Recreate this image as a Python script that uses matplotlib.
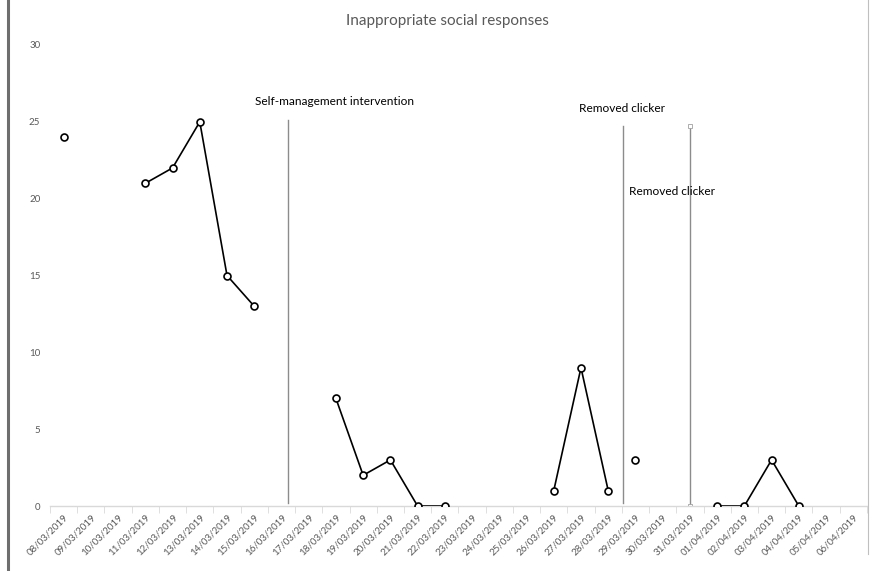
import numpy as np
import matplotlib
matplotlib.use("Agg")
from matplotlib import pyplot as plt
from matplotlib.lines import Line2D

plt.rcParams['font.family'] = ['Lato', 'DejaVu Sans']

# Daily dates shown on the category axis
dates = ['08/03/2019', '09/03/2019', '10/03/2019', '11/03/2019', '12/03/2019',
         '13/03/2019', '14/03/2019', '15/03/2019', '16/03/2019', '17/03/2019',
         '18/03/2019', '19/03/2019', '20/03/2019', '21/03/2019', '22/03/2019',
         '23/03/2019', '24/03/2019', '25/03/2019', '26/03/2019', '27/03/2019',
         '28/03/2019', '29/03/2019', '30/03/2019', '31/03/2019', '01/04/2019',
         '02/04/2019', '03/04/2019', '04/04/2019', '05/04/2019', '06/04/2019']

# Counts (None = no observation)
responses = [24, None, None, 21, 22, 25, 15, 13, None, None,
             7, 2, 3, 0, 0, None, None, None, 1, 9,
             1, 3, None, None, 0, 0, 3, 0, None, None]

# Phase change lines (category position), their extents and labels
phase_x = [8.25, 20.55, 23.0]
phase_top = [25.1, 24.75, 24.75]
phase_labels = ['Self-management intervention', 'Removed clicker', 'Removed clicker']
label_xy = [(9.93, 26.35), (20.5, 25.9), (22.34, 20.45)]

fig = plt.figure(figsize=(8.73, 5.71), dpi=100)
ax = fig.add_axes([0.0573, 0.1138, 0.9357, 0.8074])

x = np.arange(len(dates))
y = np.array([np.nan if v is None else v for v in responses], dtype=float)

# draw each phase separately so lines don't cross the phase change
edges = [-1] + phase_x + [len(dates)]
for a, b in zip(edges[:-1], edges[1:]):
    m = (x > a) & (x < b)
    ax.plot(x[m], y[m], color='black', lw=1.2, marker='o', ms=5,
            mfc='white', mec='black', mew=1.2, zorder=3)

for i, (px, top) in enumerate(zip(phase_x, phase_top)):
    if i == 2:
        ax.plot([px, px], [0, top], color='#8c8c8c', lw=1.0, marker='s',
                ms=3, mfc='white', mec='#a0a0a0', mew=0.6, zorder=2)
    else:
        ax.plot([px, px], [0.2, top], color='#8c8c8c', lw=1.0, zorder=2)

for lab, (tx, ty) in zip(phase_labels, label_xy):
    ax.text(tx, ty, lab, ha='center', va='center', fontsize=8.6, color='black')

ax.set_xlim(-0.5, len(dates) - 0.5)
ax.set_ylim(0, 30)
ax.set_yticks(range(0, 31, 5))
ax.tick_params(axis='y', length=0, labelsize=7, labelcolor='#595959', pad=7)

ax.set_xticks(x)
ax.set_xticklabels(dates, rotation=45, ha='right', rotation_mode='anchor',
                   fontsize=7, color='#595959')
ax.set_xticks(np.arange(-0.5, len(dates)), minor=True)
ax.tick_params(axis='x', which='major', length=0, pad=5)
ax.tick_params(axis='x', which='minor', length=5, color='#d9d9d9', direction='out')

for s in ['top', 'right', 'left']:
    ax.spines[s].set_visible(False)
ax.spines['bottom'].set_color('#d9d9d9')
ax.spines['bottom'].set_linewidth(1.0)

fig.text(0.513, 0.963, 'Inappropriate social responses', fontsize=11,
         color='#595959', ha='center', va='center')

# chart frame edges
fig.add_artist(Line2D([0.0095, 0.0095], [0.0, 1.0], color='#6e6e6e', lw=2.2,
                      transform=fig.transFigure))
fig.add_artist(Line2D([0.9945, 0.9945], [0.03, 1.0], color='#bfbfbf', lw=0.8,
                      transform=fig.transFigure))

plt.savefig('out.png', dpi=100)
